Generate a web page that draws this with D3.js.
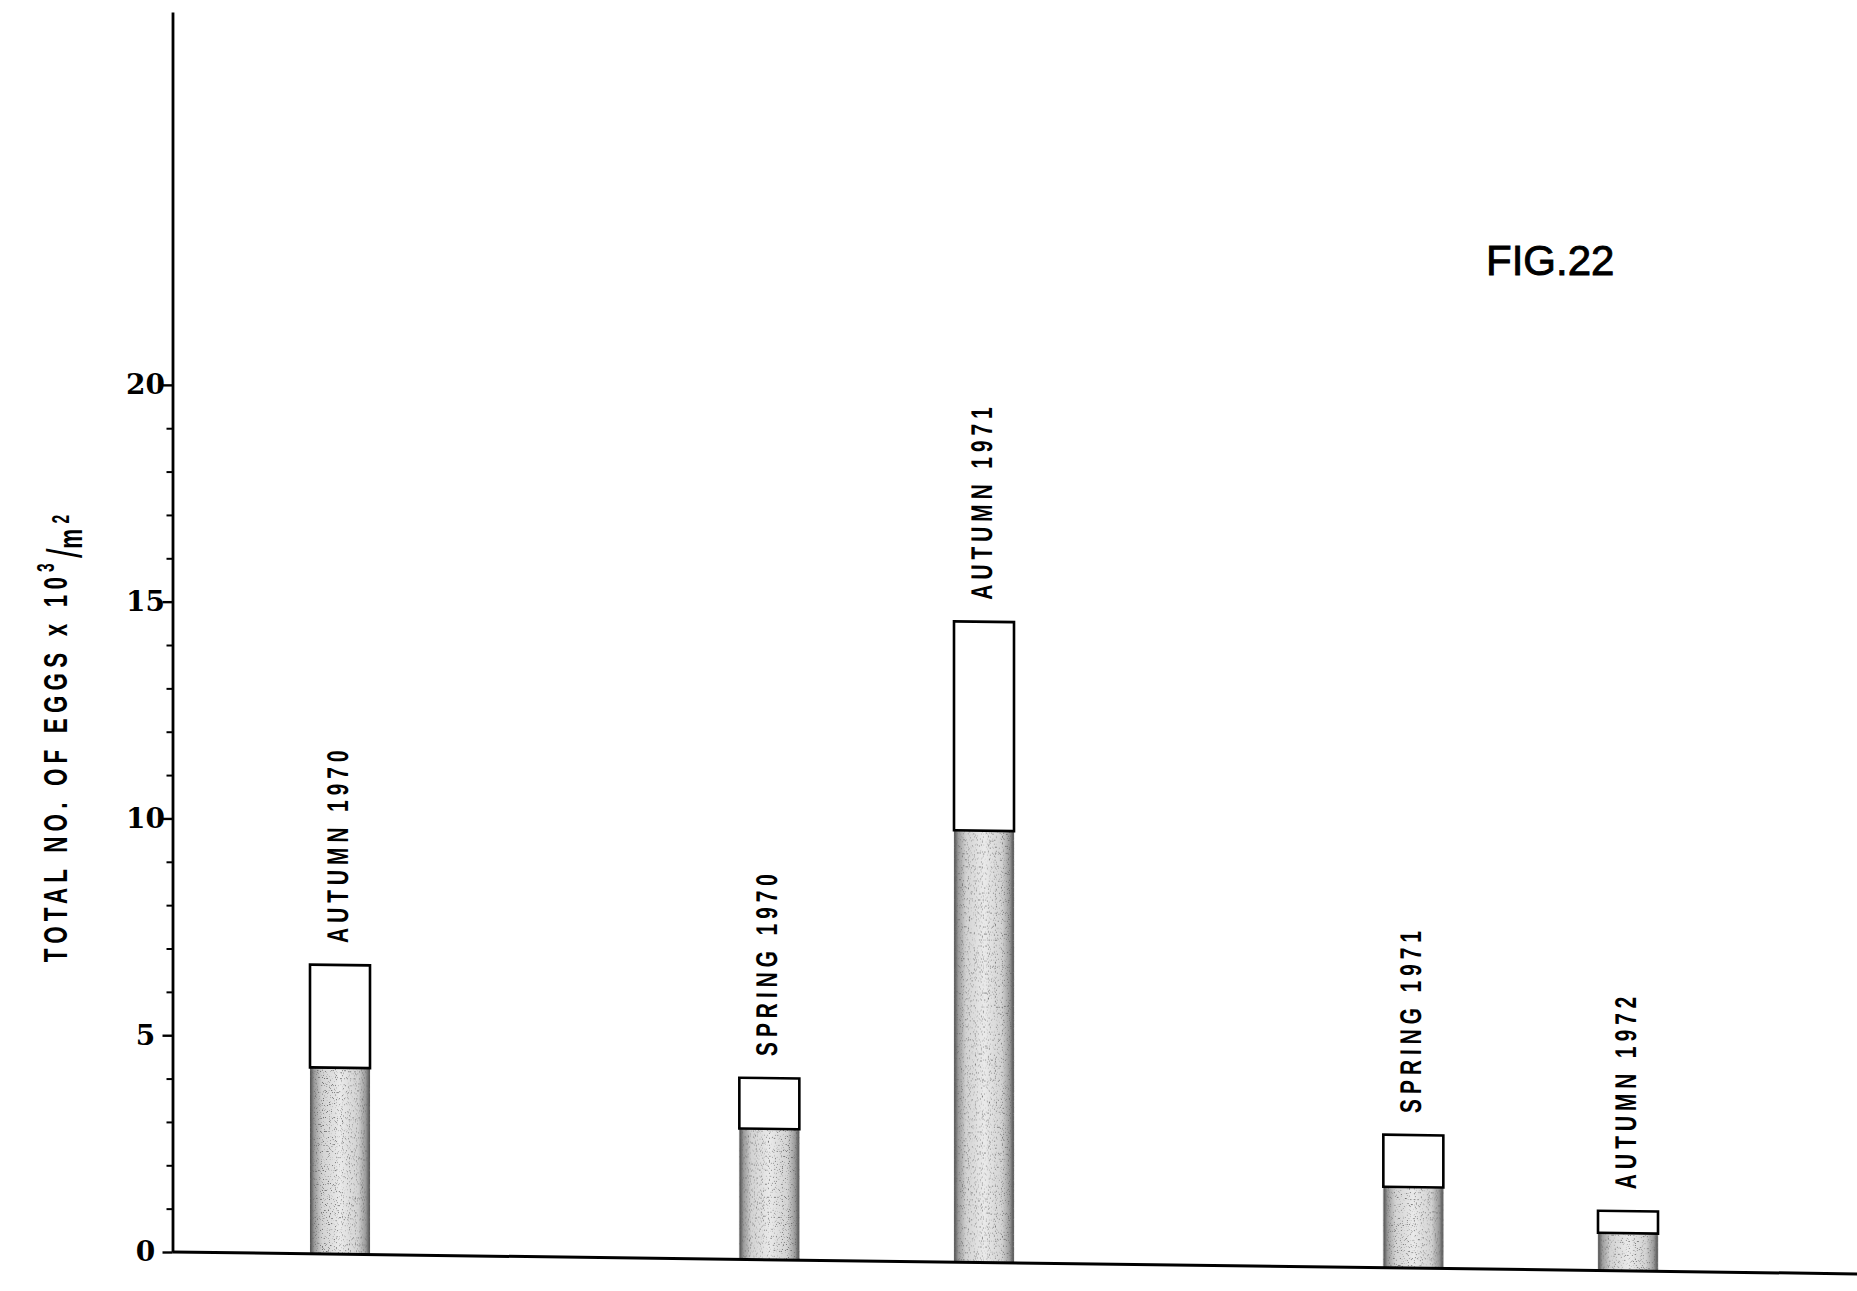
<!DOCTYPE html>
<html>
<head>
<meta charset="utf-8">
<script src="https://cdn.jsdelivr.net/npm/d3@7/dist/d3.min.js"></script>
<style>
  html, body { margin: 0; padding: 0; background: #fff; }
  svg { display: block; }
</style>
</head>
<body>
<svg id="chart" width="1857" height="1291"></svg>
<script>
// ---- data ----
const categories = ["AUTUMN 1970", "SPRING 1970", "AUTUMN 1971", "SPRING 1971", "AUTUMN 1972"];
const sequence = [0, 2, 3, 5, 6];                       // position of each sample along the x axis
const stippledValues = [4.30, 3.02, 9.96, 1.87, 0.87];  // lower (stippled) part, x10^3 eggs/m2
const totalValues = [6.67, 4.19, 14.78, 3.07, 1.38];    // bar total, x10^3 eggs/m2
const majorTicks = [0, 5, 10, 15, 20];
const tickLabels = ["0", "5", "10", "15", "20"];
const minorTicks = [1, 2, 3, 4, 6, 7, 8, 9, 11, 12, 13, 14, 16, 17, 18, 19];
const figureLabel = "FIG.22";

// ---- layout ----
const svg = d3.select("#chart");
const axisX = 172.5;
const y = d3.scaleLinear().domain([0, 28.6]).range([1252, 12]);
const x = d3.scaleLinear().domain([0, 6]).range([340, 1628]);
const barW = 60;
const skewDeg = Math.atan(0.013) * 180 / Math.PI;
const condensedFont = "'Liberation Sans Narrow','Liberation Sans',Arial,sans-serif";

const rows = categories.map((c, i) => ({
  cat: c, seq: sequence[i], lower: stippledValues[i], upper: totalValues[i] - stippledValues[i]
}));
const stacked = d3.stack().keys(["lower", "upper"])(rows);

// defs: stipple look
const defs = svg.append("defs");
const grad = defs.append("linearGradient").attr("id", "stipGrad")
  .attr("x1", "0").attr("x2", "1").attr("y1", "0").attr("y2", "0");
[[0, "#4a4a4a"], [0.07, "#9a9a9a"], [0.2, "#d2d2d2"], [0.5, "#eaeaea"], [0.8, "#d2d2d2"], [0.93, "#9a9a9a"], [1, "#4a4a4a"]]
  .forEach(([o, c]) => grad.append("stop").attr("offset", o).attr("stop-color", c));
const filt = defs.append("filter").attr("id", "speckle").attr("x", 0).attr("y", 0).attr("width", 1).attr("height", 1);
filt.append("feTurbulence").attr("type", "fractalNoise").attr("baseFrequency", 0.85).attr("numOctaves", 1).attr("seed", 7).attr("result", "noise");
filt.append("feColorMatrix").attr("in", "noise").attr("type", "matrix")
  .attr("values", "0 0 0 0 0.15  0 0 0 0 0.15  0 0 0 0 0.15  -8 0 0 0 3.3").attr("result", "dots");
filt.append("feComposite").attr("in", "dots").attr("in2", "SourceGraphic").attr("operator", "in").attr("result", "d2");
const fm = filt.append("feMerge");
fm.append("feMergeNode").attr("in", "SourceGraphic");
fm.append("feMergeNode").attr("in", "d2");

// ---- plot group (baseline of the original is slightly tilted) ----
const plot = svg.append("g")
  .attr("transform", `translate(${axisX},0) skewY(${skewDeg}) translate(${-axisX},0)`);

// lower stippled segments
plot.append("g").selectAll("rect")
  .data(stacked[0]).join("rect")
  .attr("x", d => x(d.data.seq) - barW / 2)
  .attr("width", barW)
  .attr("y", d => y(d[1]))
  .attr("height", d => y(d[0]) - y(d[1]))
  .attr("fill", "url(#stipGrad)")
  .attr("filter", "url(#speckle)");

// upper open segments
plot.append("g").selectAll("rect")
  .data(stacked[1]).join("rect")
  .attr("x", d => x(d.data.seq) - barW / 2)
  .attr("width", barW)
  .attr("y", d => y(d[1]))
  .attr("height", d => y(d[0]) - y(d[1]))
  .attr("fill", "#fff")
  .attr("stroke", "#000")
  .attr("stroke-width", 2.6);

// baseline
plot.append("line")
  .attr("x1", axisX).attr("x2", 1857)
  .attr("y1", y(0)).attr("y2", y(0))
  .attr("stroke", "#000").attr("stroke-width", 3);

// bar labels (condensed look via horizontal scaling of the glyph run)
plot.append("g").selectAll("text")
  .data(rows).join("text")
  .attr("transform", d => `translate(${x(d.seq) - 3},${y(d.lower + d.upper) - 22}) rotate(-90) scale(0.7,1)`)
  .attr("dy", "0.36em")
  .attr("text-anchor", "start")
  .style("font-family", condensedFont)
  .style("font-weight", "bold")
  .style("font-size", "30px")
  .style("letter-spacing", "7px")
  .attr("fill", "#000")
  .text(d => d.cat);

// ---- y axis ----
const yAxis = d3.axisLeft(y).tickValues(majorTicks).tickFormat((d, i) => tickLabels[i])
  .tickSize(10).tickSizeOuter(0).tickPadding(0);
const gy = svg.append("g").attr("transform", `translate(${axisX},0)`).call(yAxis);
gy.select(".domain").attr("stroke", "#000").attr("stroke-width", 2.8);
gy.selectAll(".tick line").attr("stroke", "#000").attr("stroke-width", 2.4);
gy.selectAll(".tick text")
  .attr("x", -27)
  .attr("text-anchor", "middle")
  .style("font-family", "'DejaVu Serif',serif")
  .style("font-weight", "bold")
  .style("font-size", "28px")
  .attr("fill", "#000");

const yMinor = d3.axisLeft(y).tickValues(minorTicks).tickSize(6).tickFormat("");
const gm = svg.append("g").attr("transform", `translate(${axisX},0)`).call(yMinor);
gm.select(".domain").remove();
gm.selectAll(".tick line").attr("stroke", "#000").attr("stroke-width", 2);

// y axis title
const yt = svg.append("text")
  .attr("transform", `translate(67,736) rotate(-90) scale(0.68,1)`)
  .attr("text-anchor", "middle")
  .style("font-family", condensedFont)
  .style("font-weight", "bold")
  .style("font-size", "33px")
  .style("letter-spacing", "7.6px")
  .attr("fill", "#000");
yt.append("tspan").text("TOTAL NO. OF EGGS x 10");
yt.append("tspan").attr("dy", "-0.55em").style("font-size", "23px").text("3");
yt.append("tspan").attr("dy", "0.55em").style("font-size", "50px").style("font-weight", "normal").style("letter-spacing", "0px").text("/");
yt.append("tspan").text("m");
yt.append("tspan").attr("dy", "-0.55em").style("font-size", "23px").text("2");

// figure label
svg.append("text")
  .attr("x", 1486).attr("y", 275)
  .style("font-family", "'Liberation Sans',Arial,sans-serif")
  .style("font-size", "42px")
  .attr("stroke", "#000").attr("stroke-width", 0.9)
  .attr("fill", "#000")
  .text(figureLabel);
</script>
</body>
</html>
